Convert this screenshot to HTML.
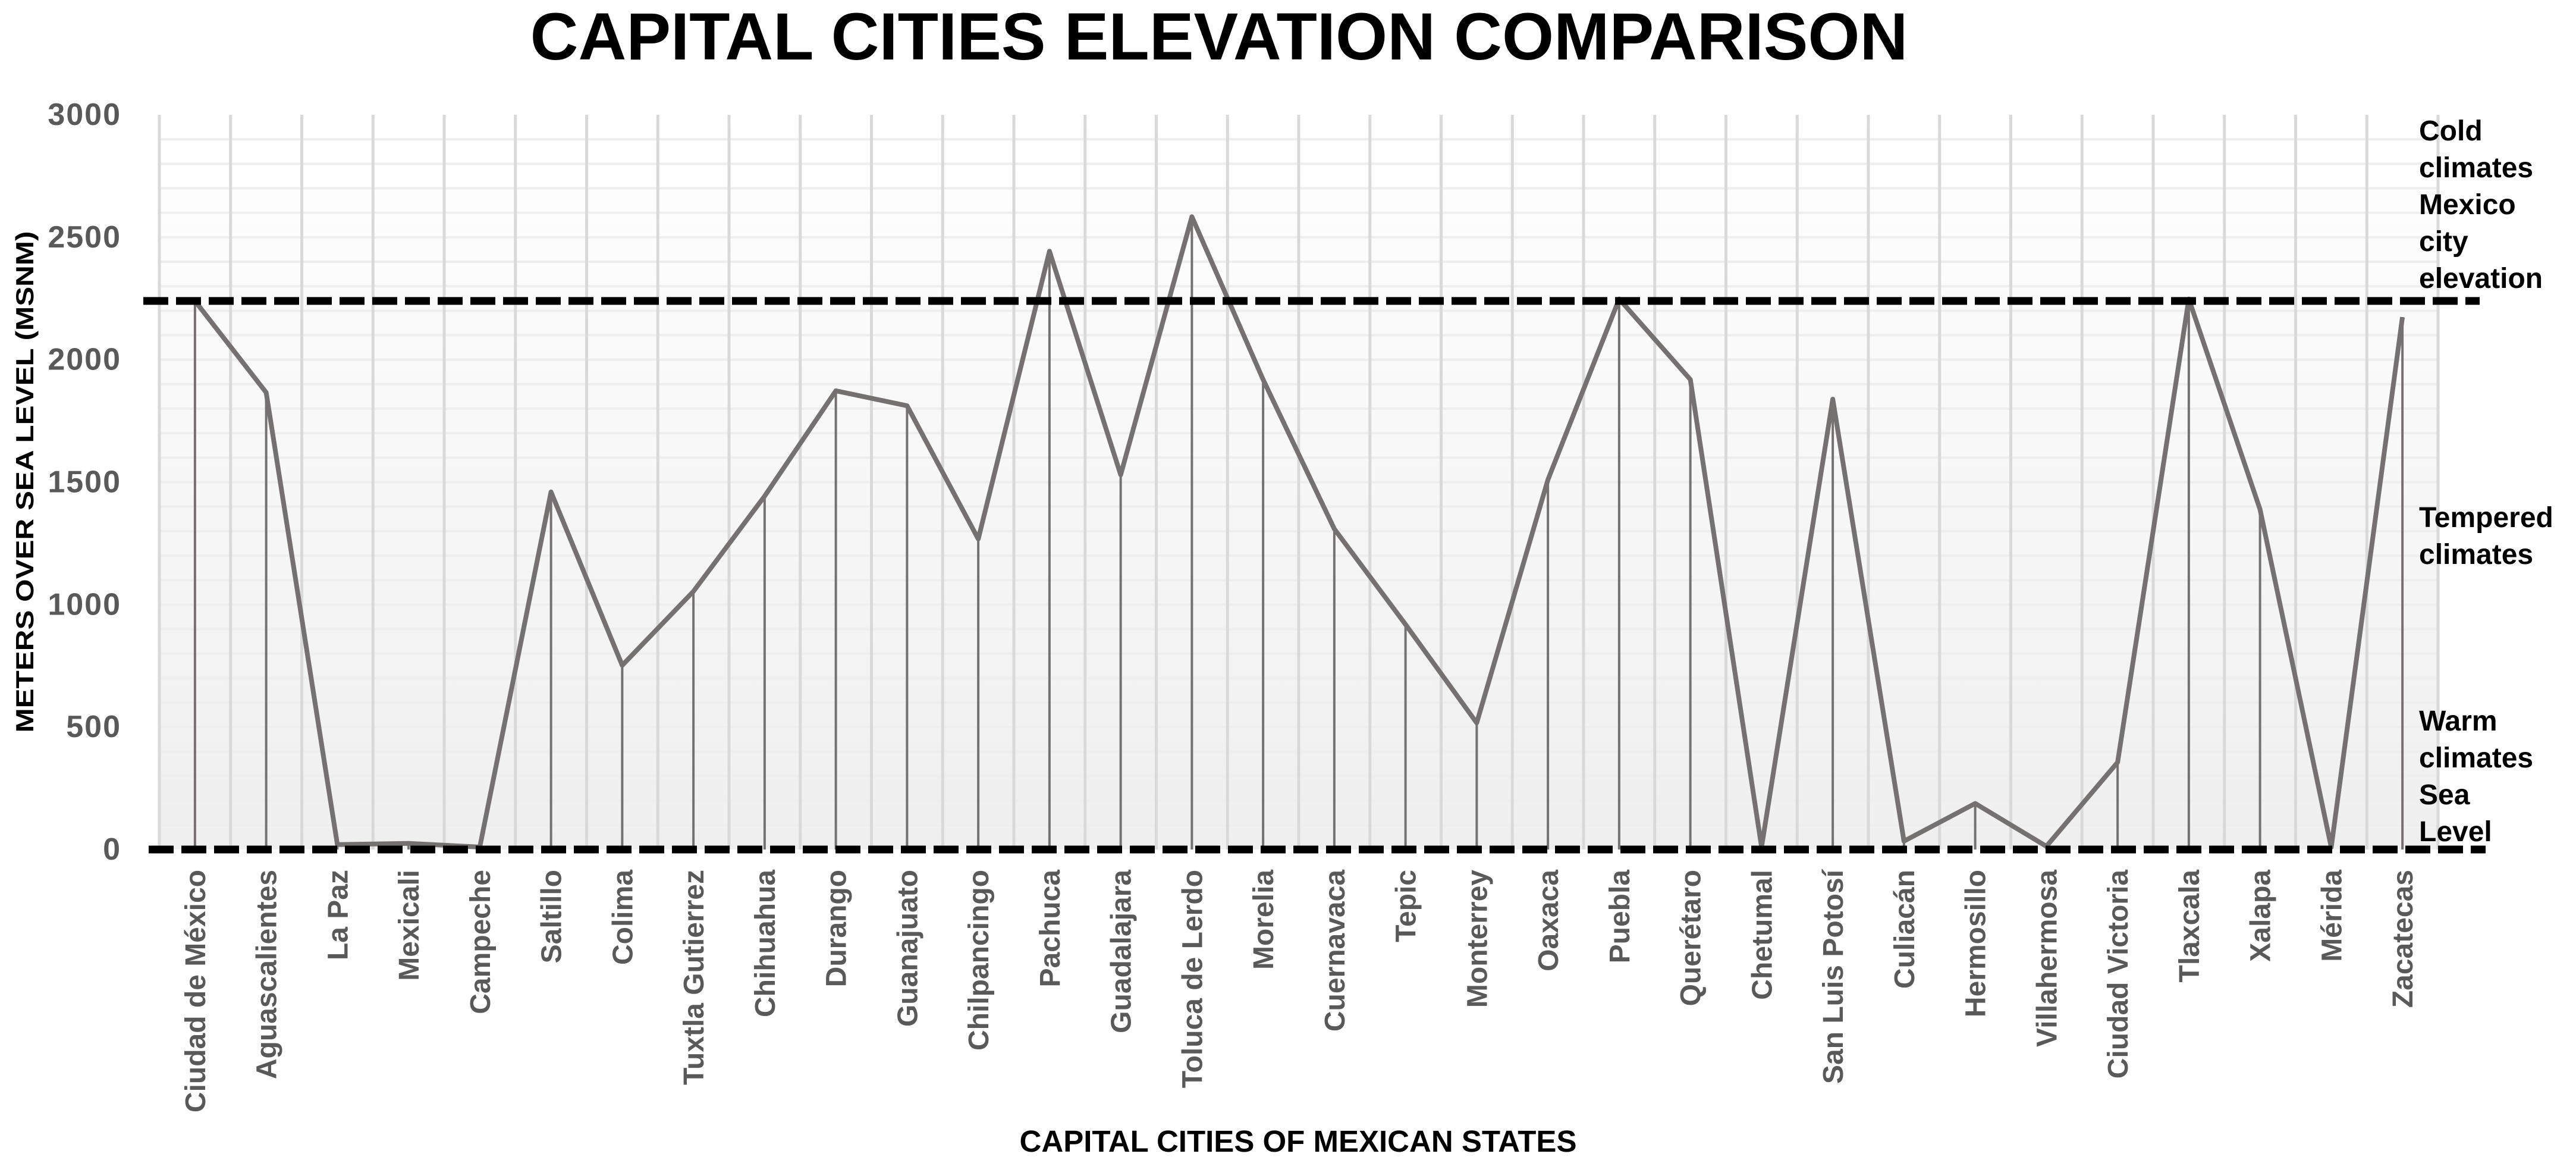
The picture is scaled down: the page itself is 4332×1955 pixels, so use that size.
<!DOCTYPE html>
<html><head><meta charset="utf-8"><style>
html,body{margin:0;padding:0;background:#fff;}
svg{display:block;font-family:"Liberation Sans",sans-serif;font-weight:bold;}
</style></head><body>
<svg id="chart" width="4332" height="1955" viewBox="0 0 4332 1955" xmlns="http://www.w3.org/2000/svg">
<defs><linearGradient id="bg" x1="0" y1="0" x2="0" y2="1"><stop offset="0" stop-color="#ffffff"/><stop offset="1" stop-color="#efefef"/></linearGradient></defs>
<text x="2050" y="100" text-anchor="middle" font-size="112" fill="#000">CAPITAL CITIES ELEVATION COMPARISON</text>
<rect x="268" y="193" width="3832" height="1235" fill="url(#bg)"/>
<g id="grid"></g><g id="drops"></g><g id="series"></g><g id="refs"></g><g id="yticks"></g><g id="xlabels"></g>
<text transform="translate(56,810) rotate(-90)" text-anchor="middle" font-size="42" fill="#000" textLength="843" lengthAdjust="spacingAndGlyphs">METERS OVER SEA LEVEL (MSNM)</text>
<text x="2183" y="1936" text-anchor="middle" font-size="51" fill="#000">CAPITAL CITIES OF MEXICAN STATES</text>
<g font-size="48" fill="#000">
<text x="4068" y="236">Cold</text><text x="4068" y="298">climates</text><text x="4068" y="360">Mexico</text><text x="4068" y="422">city</text><text x="4068" y="484">elevation</text>
<text x="4068" y="886">Tempered</text><text x="4068" y="948">climates</text>
<text x="4068" y="1228">Warm</text><text x="4068" y="1290">climates</text><text x="4068" y="1352">Sea</text><text x="4068" y="1414">Level</text>
</g>
</svg>
<script>
const categories=["Ciudad de México","Aguascalientes","La Paz","Mexicali","Campeche","Saltillo","Colima","Tuxtla Gutierrez","Chihuahua","Durango","Guanajuato","Chilpancingo","Pachuca","Guadalajara","Toluca de Lerdo","Morelia","Cuernavaca","Tepic","Monterrey","Oaxaca","Puebla","Querétaro","Chetumal","San Luis Potosí","Culiacán","Hermosillo","Villahermosa","Ciudad Victoria","Tlaxcala","Xalapa","Mérida","Zacatecas"];
const elevations=[2240,1866,20,25,10,1460,752,1054,1443,1873,1812,1268,2443,1530,2584,1919,1309,919,517,1510,2248,1919,10,1839,34,188,13,356,2248,1389,9,2174];
const yTicks=[0,500,1000,1500,2000,2500,3000];
const refLevels=[2240,0];
const NS="http://www.w3.org/2000/svg";
const X0=268,X1=4100,Y0=1428,Y1=193,YMAX=3000;
const bw=(X1-X0)/categories.length;
const xs=i=>X0+bw*(i+0.5);
const ys=v=>Y0-(v/YMAX)*(Y0-Y1);
function mk(tag,attrs,parent){const e=document.createElementNS(NS,tag);for(const k in attrs)e.setAttribute(k,attrs[k]);document.getElementById(parent).appendChild(e);return e;}
for(let v=100;v<YMAX;v+=100){
  const l=mk('line',{x1:X0,x2:X1,y1:ys(v),y2:ys(v),stroke:'#eeeeee','stroke-width':4},'grid');
  
  
}
for(let i=0;i<=categories.length;i++){
  const l=mk('line',{x1:X0+bw*i,x2:X0+bw*i,y1:Y1,y2:Y0,stroke:'#d9d9d9','stroke-width':5},'grid');
  
  
}
elevations.forEach((v,i)=>{
  const l=mk('line',{x1:xs(i),x2:xs(i),y1:ys(v),y2:Y0,stroke:'#767171','stroke-width':4},'drops');
  
  
});
const pts=elevations.map((v,i)=>xs(i)+','+ys(v)).join(' ');
const pl=mk('polyline',{points:pts,fill:'none',stroke:'#767171','stroke-width':8,'stroke-linejoin':'round'},'series');


refLevels.forEach((v,k)=>{
  const l=mk('line',{x1:k===0?241:250,x2:k===0?4170:4180,y1:ys(v),y2:ys(v),stroke:'#000','stroke-width':13,'stroke-dasharray':'42 13'},'refs');
  
  
});
yTicks.forEach(v=>{
  const t=mk('text',{x:204,y:ys(v)+17,'text-anchor':'end','font-size':52,'letter-spacing':2,fill:'#595959'},'yticks');
  t.textContent=String(v);
  
  
});
categories.forEach((c,i)=>{
  const t=mk('text',{transform:`translate(${xs(i)+17},1462) rotate(-90)`,'text-anchor':'end','font-size':48,fill:'#595959'},'xlabels');
  t.textContent=c;
  
  
});
</script>
</body></html>
